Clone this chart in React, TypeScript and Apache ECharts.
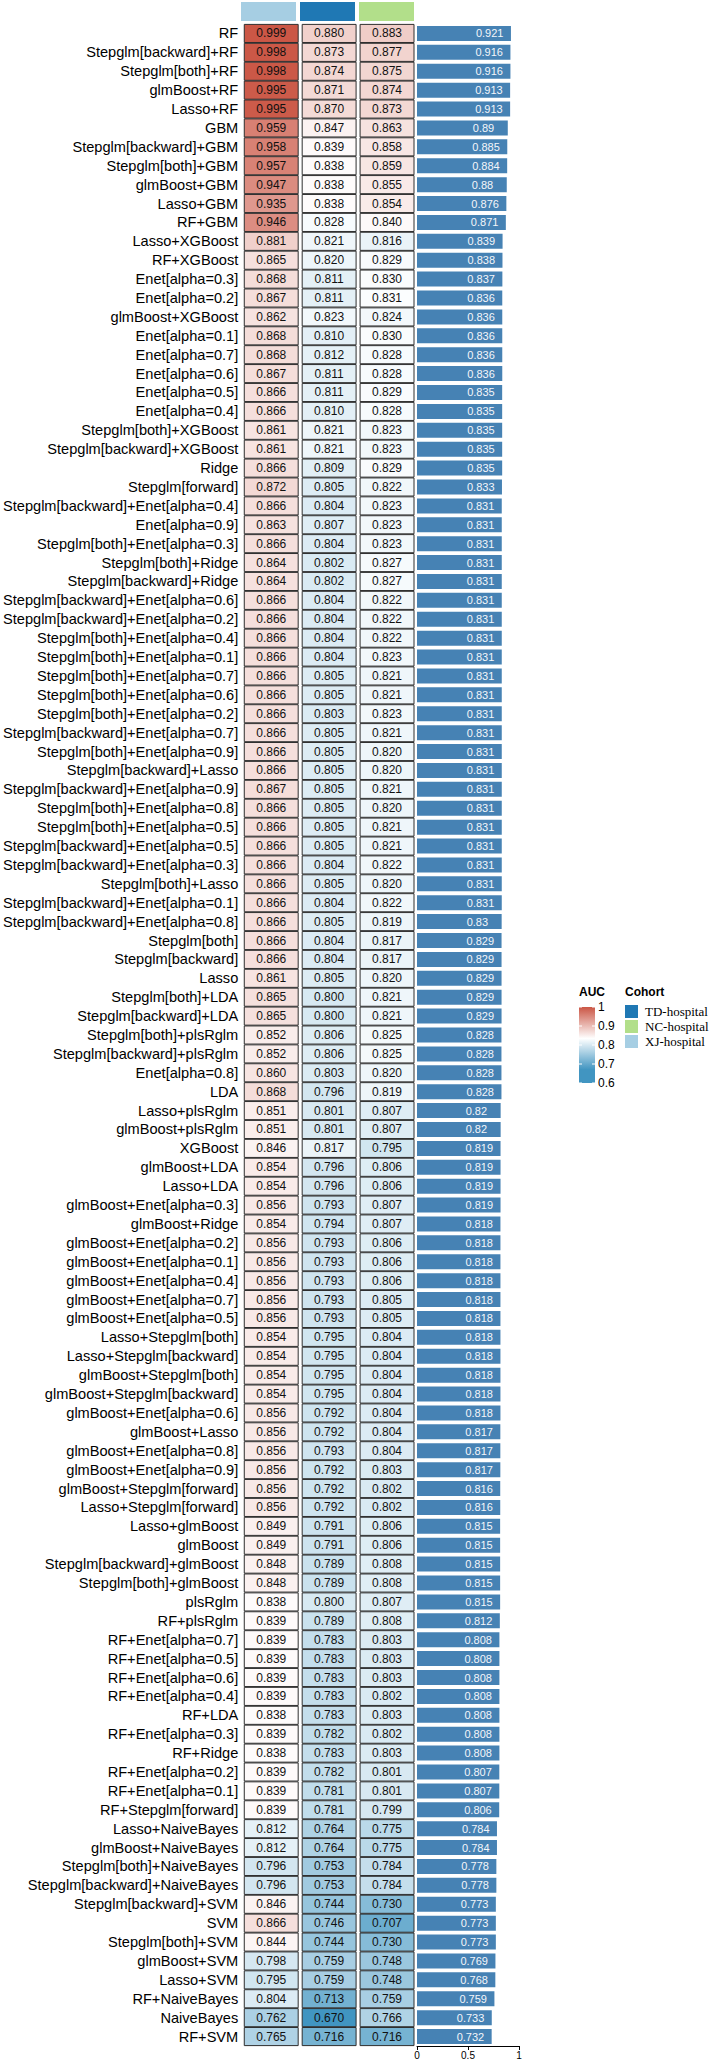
import React, { useEffect, useRef } from "react";
import * as echarts from "echarts";

// Model names, top to bottom
const models = [
  "RF", "Stepglm[backward]+RF", "Stepglm[both]+RF", "glmBoost+RF", "Lasso+RF",
  "GBM", "Stepglm[backward]+GBM", "Stepglm[both]+GBM", "glmBoost+GBM", "Lasso+GBM",
  "RF+GBM", "Lasso+XGBoost", "RF+XGBoost", "Enet[alpha=0.3]", "Enet[alpha=0.2]",
  "glmBoost+XGBoost", "Enet[alpha=0.1]", "Enet[alpha=0.7]", "Enet[alpha=0.6]", "Enet[alpha=0.5]",
  "Enet[alpha=0.4]", "Stepglm[both]+XGBoost", "Stepglm[backward]+XGBoost", "Ridge", "Stepglm[forward]",
  "Stepglm[backward]+Enet[alpha=0.4]", "Enet[alpha=0.9]", "Stepglm[both]+Enet[alpha=0.3]", "Stepglm[both]+Ridge", "Stepglm[backward]+Ridge",
  "Stepglm[backward]+Enet[alpha=0.6]", "Stepglm[backward]+Enet[alpha=0.2]", "Stepglm[both]+Enet[alpha=0.4]", "Stepglm[both]+Enet[alpha=0.1]", "Stepglm[both]+Enet[alpha=0.7]",
  "Stepglm[both]+Enet[alpha=0.6]", "Stepglm[both]+Enet[alpha=0.2]", "Stepglm[backward]+Enet[alpha=0.7]", "Stepglm[both]+Enet[alpha=0.9]", "Stepglm[backward]+Lasso",
  "Stepglm[backward]+Enet[alpha=0.9]", "Stepglm[both]+Enet[alpha=0.8]", "Stepglm[both]+Enet[alpha=0.5]", "Stepglm[backward]+Enet[alpha=0.5]", "Stepglm[backward]+Enet[alpha=0.3]",
  "Stepglm[both]+Lasso", "Stepglm[backward]+Enet[alpha=0.1]", "Stepglm[backward]+Enet[alpha=0.8]", "Stepglm[both]", "Stepglm[backward]",
  "Lasso", "Stepglm[both]+LDA", "Stepglm[backward]+LDA", "Stepglm[both]+plsRglm", "Stepglm[backward]+plsRglm",
  "Enet[alpha=0.8]", "LDA", "Lasso+plsRglm", "glmBoost+plsRglm", "XGBoost",
  "glmBoost+LDA", "Lasso+LDA", "glmBoost+Enet[alpha=0.3]", "glmBoost+Ridge", "glmBoost+Enet[alpha=0.2]",
  "glmBoost+Enet[alpha=0.1]", "glmBoost+Enet[alpha=0.4]", "glmBoost+Enet[alpha=0.7]", "glmBoost+Enet[alpha=0.5]", "Lasso+Stepglm[both]",
  "Lasso+Stepglm[backward]", "glmBoost+Stepglm[both]", "glmBoost+Stepglm[backward]", "glmBoost+Enet[alpha=0.6]", "glmBoost+Lasso",
  "glmBoost+Enet[alpha=0.8]", "glmBoost+Enet[alpha=0.9]", "glmBoost+Stepglm[forward]", "Lasso+Stepglm[forward]", "Lasso+glmBoost",
  "glmBoost", "Stepglm[backward]+glmBoost", "Stepglm[both]+glmBoost", "plsRglm", "RF+plsRglm",
  "RF+Enet[alpha=0.7]", "RF+Enet[alpha=0.5]", "RF+Enet[alpha=0.6]", "RF+Enet[alpha=0.4]", "RF+LDA",
  "RF+Enet[alpha=0.3]", "RF+Ridge", "RF+Enet[alpha=0.2]", "RF+Enet[alpha=0.1]", "RF+Stepglm[forward]",
  "Lasso+NaiveBayes", "glmBoost+NaiveBayes", "Stepglm[both]+NaiveBayes", "Stepglm[backward]+NaiveBayes", "Stepglm[backward]+SVM",
  "SVM", "Stepglm[both]+SVM", "glmBoost+SVM", "Lasso+SVM", "RF+NaiveBayes",
  "NaiveBayes", "RF+SVM",
];

// AUC per cohort (same row order as models)
const xjAUC = [
  0.999, 0.998, 0.998, 0.995, 0.995, 0.959, 0.958, 0.957, 0.947, 0.935,
  0.946, 0.881, 0.865, 0.868, 0.867, 0.862, 0.868, 0.868, 0.867, 0.866,
  0.866, 0.861, 0.861, 0.866, 0.872, 0.866, 0.863, 0.866, 0.864, 0.864,
  0.866, 0.866, 0.866, 0.866, 0.866, 0.866, 0.866, 0.866, 0.866, 0.866,
  0.867, 0.866, 0.866, 0.866, 0.866, 0.866, 0.866, 0.866, 0.866, 0.866,
  0.861, 0.865, 0.865, 0.852, 0.852, 0.860, 0.868, 0.851, 0.851, 0.846,
  0.854, 0.854, 0.856, 0.854, 0.856, 0.856, 0.856, 0.856, 0.856, 0.854,
  0.854, 0.854, 0.854, 0.856, 0.856, 0.856, 0.856, 0.856, 0.856, 0.849,
  0.849, 0.848, 0.848, 0.838, 0.839, 0.839, 0.839, 0.839, 0.839, 0.838,
  0.839, 0.838, 0.839, 0.839, 0.839, 0.812, 0.812, 0.796, 0.796, 0.846,
  0.866, 0.844, 0.798, 0.795, 0.804, 0.762, 0.765,
];
const tdAUC = [
  0.880, 0.873, 0.874, 0.871, 0.870, 0.847, 0.839, 0.838, 0.838, 0.838,
  0.828, 0.821, 0.820, 0.811, 0.811, 0.823, 0.810, 0.812, 0.811, 0.811,
  0.810, 0.821, 0.821, 0.809, 0.805, 0.804, 0.807, 0.804, 0.802, 0.802,
  0.804, 0.804, 0.804, 0.804, 0.805, 0.805, 0.803, 0.805, 0.805, 0.805,
  0.805, 0.805, 0.805, 0.805, 0.804, 0.805, 0.804, 0.805, 0.804, 0.804,
  0.805, 0.800, 0.800, 0.806, 0.806, 0.803, 0.796, 0.801, 0.801, 0.817,
  0.796, 0.796, 0.793, 0.794, 0.793, 0.793, 0.793, 0.793, 0.793, 0.795,
  0.795, 0.795, 0.795, 0.792, 0.792, 0.793, 0.792, 0.792, 0.792, 0.791,
  0.791, 0.789, 0.789, 0.800, 0.789, 0.783, 0.783, 0.783, 0.783, 0.783,
  0.782, 0.783, 0.782, 0.781, 0.781, 0.764, 0.764, 0.753, 0.753, 0.744,
  0.746, 0.744, 0.759, 0.759, 0.713, 0.670, 0.716,
];
const ncAUC = [
  0.883, 0.877, 0.875, 0.874, 0.873, 0.863, 0.858, 0.859, 0.855, 0.854,
  0.840, 0.816, 0.829, 0.830, 0.831, 0.824, 0.830, 0.828, 0.828, 0.829,
  0.828, 0.823, 0.823, 0.829, 0.822, 0.823, 0.823, 0.823, 0.827, 0.827,
  0.822, 0.822, 0.822, 0.823, 0.821, 0.821, 0.823, 0.821, 0.820, 0.820,
  0.821, 0.820, 0.821, 0.821, 0.822, 0.820, 0.822, 0.819, 0.817, 0.817,
  0.820, 0.821, 0.821, 0.825, 0.825, 0.820, 0.819, 0.807, 0.807, 0.795,
  0.806, 0.806, 0.807, 0.807, 0.806, 0.806, 0.806, 0.805, 0.805, 0.804,
  0.804, 0.804, 0.804, 0.804, 0.804, 0.804, 0.803, 0.802, 0.802, 0.806,
  0.806, 0.808, 0.808, 0.807, 0.808, 0.803, 0.803, 0.803, 0.802, 0.803,
  0.802, 0.803, 0.801, 0.801, 0.799, 0.775, 0.775, 0.784, 0.784, 0.730,
  0.707, 0.730, 0.748, 0.748, 0.759, 0.766, 0.716,
];
// Mean AUC across cohorts (bar annotation)
const meanAUC = [
  0.921, 0.916, 0.916, 0.913, 0.913, 0.89, 0.885, 0.884, 0.88, 0.876,
  0.871, 0.839, 0.838, 0.837, 0.836, 0.836, 0.836, 0.836, 0.836, 0.835,
  0.835, 0.835, 0.835, 0.835, 0.833, 0.831, 0.831, 0.831, 0.831, 0.831,
  0.831, 0.831, 0.831, 0.831, 0.831, 0.831, 0.831, 0.831, 0.831, 0.831,
  0.831, 0.831, 0.831, 0.831, 0.831, 0.831, 0.831, 0.83, 0.829, 0.829,
  0.829, 0.829, 0.829, 0.828, 0.828, 0.828, 0.828, 0.82, 0.82, 0.819,
  0.819, 0.819, 0.819, 0.818, 0.818, 0.818, 0.818, 0.818, 0.818, 0.818,
  0.818, 0.818, 0.818, 0.818, 0.817, 0.817, 0.817, 0.816, 0.816, 0.815,
  0.815, 0.815, 0.815, 0.815, 0.812, 0.808, 0.808, 0.808, 0.808, 0.808,
  0.808, 0.808, 0.807, 0.807, 0.806, 0.784, 0.784, 0.778, 0.778, 0.773,
  0.773, 0.773, 0.769, 0.768, 0.759, 0.733, 0.732,
];

// Heatmap columns and their annotation colours
const cohorts = ["XJ-hospital", "TD-hospital", "NC-hospital"];
const cohortColors = ["#A6CEE3", "#1F78B4", "#B2DF8A"];
const legendCohorts = ["TD-hospital", "NC-hospital", "XJ-hospital"];

// Legend / axis ticks
const aucLegendTicks = [1, 0.9, 0.8, 0.7, 0.6];

const colorLow = "#4195C1";
const colorMid = "#FFFFFF";
const colorHigh = "#CB5746";

const SANS = "'Liberation Sans', Arial, sans-serif";
const SERIF = "'Liberation Serif', 'Times New Roman', serif";

export default function App() {
  const ref = useRef<HTMLDivElement>(null);

  useEffect(() => {
    if (!ref.current) return;
    const chart = echarts.init(ref.current, null, { renderer: "svg" });

    const columns = [xjAUC, tdAUC, ncAUC];
    const cells: number[][] = [];
    columns.forEach((col, c) => col.forEach((v, r) => cells.push([c, r, v])));
    const allValues = columns.flat();
    const aucMin = Math.min(...allValues);
    const aucMax = Math.max(...allValues);
    const aucMid = (aucMin + aucMax) / 2;

    // layout
    const rowsTop = 24;
    const rowsHeight = 2022;
    const heatLeft = 239;
    const heatWidth = 177;

    // colour legend geometry
    const legTop = 1007;
    const legBottom = 1083;
    const legLeft = 579;
    const legW = 16;
    const lo = aucLegendTicks[aucLegendTicks.length - 1];
    const hi = aucLegendTicks[0];
    const legY = (v: number) => legBottom - ((v - lo) / (hi - lo)) * (legBottom - legTop);
    const legOff = (v: number) => (hi - v) / (hi - lo);

    const graphics: any[] = [
      {
        type: "text",
        x: legLeft,
        y: 992,
        style: { text: "AUC", font: `bold 12px ${SANS}`, fill: "#000", verticalAlign: "middle" },
      },
      {
        type: "rect",
        shape: { x: legLeft, y: legTop, width: legW, height: legBottom - legTop },
        style: {
          fill: {
            type: "linear",
            x: 0, y: 0, x2: 0, y2: 1,
            colorStops: [
              { offset: 0, color: colorHigh },
              { offset: legOff(aucMax), color: colorHigh },
              { offset: legOff(aucMid), color: colorMid },
              { offset: legOff(aucMin), color: colorLow },
              { offset: 1, color: colorLow },
            ],
          },
        },
      },
      {
        type: "text",
        x: 625,
        y: 992,
        style: { text: "Cohort", font: `bold 12px ${SANS}`, fill: "#000", verticalAlign: "middle" },
      },
    ];
    aucLegendTicks.forEach((t) => {
      const y = legY(t);
      graphics.push(
        { type: "line", shape: { x1: legLeft, y1: y, x2: legLeft + 3, y2: y }, style: { stroke: "#fff", lineWidth: 1 } },
        { type: "line", shape: { x1: legLeft + legW - 3, y1: y, x2: legLeft + legW, y2: y }, style: { stroke: "#fff", lineWidth: 1 } },
        {
          type: "text",
          x: legLeft + legW + 3,
          y,
          style: { text: String(t), font: `12px ${SANS}`, fill: "#000", verticalAlign: "middle" },
        }
      );
    });
    legendCohorts.forEach((name, i) => {
      const y0 = 1005 + i * 15;
      graphics.push(
        {
          type: "rect",
          shape: { x: 625, y: y0, width: 13, height: 13 },
          style: { fill: cohortColors[cohorts.indexOf(name)] },
        },
        {
          type: "text",
          x: 645,
          y: y0 + 6.5,
          style: { text: name, font: `13px ${SERIF}`, fill: "#000", verticalAlign: "middle" },
        }
      );
    });

    chart.setOption({
      animation: false,
      textStyle: { fontFamily: SANS },
      grid: [
        { left: heatLeft, top: rowsTop, width: heatWidth, height: rowsHeight },
        { left: heatLeft, top: 2, width: heatWidth, height: 19 },
        { left: 417, top: rowsTop, width: 102, height: rowsHeight },
      ],
      xAxis: [
        { type: "category", gridIndex: 0, data: cohorts, show: false },
        { type: "category", gridIndex: 1, data: cohorts, show: false },
        {
          type: "value",
          gridIndex: 2,
          min: 0,
          max: 1,
          interval: 0.5,
          position: "bottom",
          axisLine: { show: true, lineStyle: { color: "#000", width: 1 } },
          axisTick: { show: true, length: 4, lineStyle: { color: "#000" } },
          axisLabel: { fontSize: 10, color: "#000", margin: 4, formatter: (v: number) => String(v) },
          splitLine: { show: false },
        },
      ],
      yAxis: [
        {
          type: "category",
          gridIndex: 0,
          data: models,
          inverse: true,
          axisLine: { show: false },
          axisTick: { show: false },
          axisLabel: { interval: 0, fontSize: 14.6, color: "#000", margin: 4, fontFamily: SANS },
        },
        { type: "category", gridIndex: 1, data: ["Cohort"], show: false },
        { type: "category", gridIndex: 2, data: models, inverse: true, show: false },
      ],
      visualMap: {
        show: false,
        type: "continuous",
        seriesIndex: 0,
        dimension: 2,
        min: aucMin,
        max: aucMax,
        inRange: { color: [colorLow, colorMid, colorHigh] },
      },
      series: [
        {
          type: "custom",
          xAxisIndex: 0,
          yAxisIndex: 0,
          data: cells,
          encode: { x: 0, y: 1 },
          renderItem: (params: any, api: any) => {
            const c = api.coord([api.value(0), api.value(1)]);
            const s = api.size([1, 1]);
            const w = s[0] - 4;
            const h = s[1] - 0.8;
            const v = api.value(2);
            return {
              type: "group",
              children: [
                {
                  type: "rect",
                  shape: { x: c[0] - w / 2, y: c[1] - h / 2, width: w, height: h },
                  style: { fill: api.visual("color"), stroke: "#2e2e2e", lineWidth: 1 },
                },
                {
                  type: "text",
                  style: {
                    text: v.toFixed(3),
                    x: c[0],
                    y: c[1],
                    align: "center",
                    verticalAlign: "middle",
                    font: `12px ${SANS}`,
                    fill: "#111",
                  },
                },
              ],
            };
          },
        },
        {
          type: "custom",
          xAxisIndex: 1,
          yAxisIndex: 1,
          data: cohorts.map((_, i) => [i, 0]),
          encode: { x: 0, y: 1 },
          renderItem: (params: any, api: any) => {
            const c = api.coord([api.value(0), api.value(1)]);
            const s = api.size([1, 1]);
            const w = s[0] - 4;
            return {
              type: "rect",
              shape: { x: c[0] - w / 2, y: c[1] - s[1] / 2, width: w, height: s[1] },
              style: { fill: cohortColors[params.dataIndex] },
            };
          },
        },
        {
          type: "bar",
          xAxisIndex: 2,
          yAxisIndex: 2,
          data: meanAUC,
          barWidth: 15,
          itemStyle: { color: "#4682B4" },
          label: {
            show: true,
            position: ["100%", "50%"],
            offset: [-35, 0],
            align: "left",
            verticalAlign: "middle",
            fontSize: 11,
            color: "#f4f6fa",
            fontFamily: SANS,
            formatter: (p: any) => String(p.value),
          },
        },
      ],
      graphic: graphics,
    });

    return () => chart.dispose();
  }, []);

  return (
    <div
      ref={ref}
      style={{ position: "absolute", left: 0, top: 0, width: 724, height: 2063, background: "#fff" }}
    />
  );
}
